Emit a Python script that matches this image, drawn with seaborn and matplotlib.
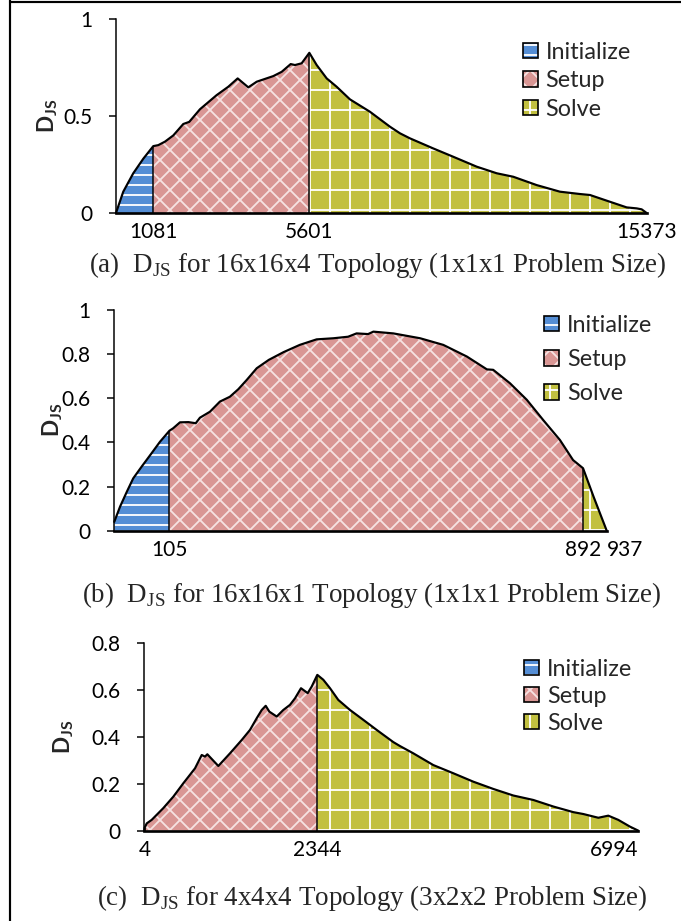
import numpy as np
import matplotlib
matplotlib.use('Agg')
import matplotlib.pyplot as plt
import matplotlib.patches as mpatches
from matplotlib.legend_handler import HandlerTuple
from matplotlib.lines import Line2D
import seaborn as sns

#
# data
#
phases = ['Initialize', 'Setup', 'Solve']

# (a) 16x16x4 topology
a_x = [0, 211, 501, 791, 1081, 1225, 1419, 1660, 1950, 2123, 2433, 2917, 3253,
       3525, 3833, 4076, 4557, 4800, 5061, 5185, 5379, 5601, 5814, 6104, 6393,
       6778, 7358, 7937, 8227, 8516, 9191, 9771, 10449, 11028, 11509, 12187,
       12861, 13441, 13730, 14310, 14794, 15083, 15228, 15373]
a_y = [0, 0.11, 0.205, 0.28, 0.345, 0.35, 0.368, 0.40, 0.459, 0.47, 0.535,
       0.608, 0.651, 0.694, 0.648, 0.677, 0.706, 0.728, 0.768, 0.763, 0.772,
       0.826, 0.763, 0.694, 0.651, 0.586, 0.522, 0.445, 0.411, 0.385, 0.333,
       0.29, 0.239, 0.205, 0.187, 0.144, 0.11, 0.098, 0.093, 0.058, 0.029,
       0.024, 0.019, 0]
a_bounds = [1081, 5601, 15373]

# (b) 16x16x1 topology
b_x = [0, 11, 24, 36, 52, 71, 87, 105, 112, 125, 141, 155, 163, 182, 201, 220,
       236, 252, 271, 294, 322, 353, 385, 417, 445, 461, 483, 493, 531, 582,
       626, 671, 709, 721, 753, 785, 816, 848, 873, 892, 912, 937]
b_y = [0.04, 0.109, 0.177, 0.237, 0.29, 0.351, 0.403, 0.453, 0.464, 0.491,
       0.492, 0.487, 0.512, 0.539, 0.585, 0.607, 0.641, 0.683, 0.736, 0.774,
       0.809, 0.842, 0.867, 0.872, 0.879, 0.894, 0.891, 0.902, 0.894, 0.872,
       0.842, 0.789, 0.731, 0.729, 0.668, 0.593, 0.502, 0.411, 0.32, 0.283,
       0.154, 0]
b_bounds = [105, 892, 937]

# (c) 4x4x4 topology
c_x = [0, 4, 33, 100, 257, 393, 528, 687, 778, 822, 854, 1003, 1161, 1320,
       1432, 1523, 1591, 1645, 1694, 1794, 1883, 1974, 2042, 2123, 2214, 2268,
       2344, 2431, 2528, 2648, 2818, 3010, 3204, 3445, 3542, 3735, 4024, 4314,
       4604, 4894, 5183, 5473, 5763, 6052, 6197, 6415, 6559, 6704, 6874, 6994]
c_y = [0, 0.012, 0.031, 0.046, 0.096, 0.145, 0.202, 0.266, 0.323, 0.316,
       0.326, 0.276, 0.330, 0.387, 0.430, 0.480, 0.515, 0.533, 0.508, 0.487,
       0.515, 0.537, 0.565, 0.608, 0.587, 0.615, 0.665, 0.644, 0.608, 0.558,
       0.515, 0.473, 0.43, 0.378, 0.361, 0.330, 0.280, 0.245, 0.209, 0.178,
       0.150, 0.131, 0.103, 0.079, 0.071, 0.055, 0.064, 0.046, 0.017, 0]
c_bounds = [4, 2344, 6994]
# the category axis of (c) is not evenly spaced: relative widths of its parts
c_knots = [0, 2344, 6994]
c_spacing = [0, 173, 494]

captions = [
    r'(a)  D$_{\mathdefault{JS}}$ for 16x16x4 Topology (1x1x1 Problem Size)',
    r'(b)  D$_{\mathdefault{JS}}$ for 16x16x1 Topology (1x1x1 Problem Size)',
    r'(c)  D$_{\mathdefault{JS}}$ for 4x4x4 Topology (3x2x2 Problem Size)',
]

#
# style
#
sns.set_style('white')
plt.rcParams['font.family'] = ['Lato', 'DejaVu Sans']
plt.rcParams['hatch.linewidth'] = 1.1

fills = ['#558ED5', '#D99694', '#C2C040']
hatch_colors = ['#FFFFFF', '#F6E2E2', '#FFFFFF']
hatches = ['--', 'xx', '+']

DPI = 120
fig = plt.figure(figsize=(681 / DPI, 921 / DPI), dpi=DPI)


def draw_panel(rect, xs, ys, bounds, ymax, ystep, label_x, legend_at,
               spacing, last_ha='center'):
    ax = fig.add_axes(rect)
    xs = np.asarray(xs, dtype=float)
    ys = np.asarray(ys, dtype=float)

    starts = [xs[0]] + bounds[:-1]
    for name, lo, hi, fc, hc, h in zip(phases, starts, bounds, fills,
                                       hatch_colors, hatches):
        m = (xs >= lo) & (xs <= hi)
        ax.fill_between(xs[m], ys[m], facecolor=fc, edgecolor=hc, hatch=h,
                        linewidth=0, zorder=1)
    inner = bounds[:-1]
    ax.vlines(inner, 0, np.interp(inner, xs, ys), color='black', lw=0.9,
              zorder=2)
    sns.lineplot(x=xs, y=ys, ax=ax, color='black', lw=1.3, clip_on=False,
                 zorder=3)

    ax.set_xlim(xs[0], bounds[-1])
    ax.set_ylim(0, ymax)
    yticks = np.round(np.arange(0, ymax + 1e-9, ystep), 2)
    ax.set_yticks(yticks)
    ax.set_yticklabels([f'{v:g}' for v in yticks])
    ax.set_xticks(bounds)
    ax.set_xticklabels([str(v) for v in bounds])
    ax.get_xticklabels()[-1].set_horizontalalignment(last_ha)
    ax.tick_params(axis='y', length=4.2, width=0.9, pad=10, labelsize=12.5,
                   direction='out', left=True, colors='black')
    ax.tick_params(axis='x', length=0, pad=5.5, labelsize=12.5,
                   colors='black')
    for s in ['top', 'right']:
        ax.spines[s].set_visible(False)
    ax.spines['left'].set_linewidth(0.9)
    ax.spines['left'].set_color('black')
    ax.spines['bottom'].set_linewidth(1.6)
    ax.spines['bottom'].set_color('black')
    ax.set_xlabel('')
    ax.set_ylabel(r'D$_{\mathdefault{JS}}$', fontweight='bold', fontsize=13.5)
    ax.yaxis.set_label_coords(label_x, 0.5)

    handles = [(mpatches.Patch(facecolor=fc, edgecolor=hc, hatch=h, lw=0),
                mpatches.Patch(facecolor='none', edgecolor='black', lw=1.0))
               for fc, hc, h in zip(fills, hatch_colors, hatches)]
    ax.legend(handles, phases, handler_map={tuple: HandlerTuple(ndivide=1, pad=0)},
              loc='upper left', bbox_to_anchor=legend_at, frameon=False,
              borderpad=0, borderaxespad=0, handlelength=0.65,
              handleheight=0.65, handletextpad=0.32, labelspacing=spacing,
              fontsize=14)
    return ax


draw_panel([0.1703, 0.7687, 0.7793, 0.2106], a_x, a_y, a_bounds, 1.0, 0.5,
           -0.105, (0.767, 0.883), 0.32)
draw_panel([0.1678, 0.4238, 0.7231, 0.2396], b_x, b_y, b_bounds, 1.0, 0.2,
           -0.100, (0.873, 0.978), 0.56, last_ha='left')
ax_c = draw_panel([0.2119, 0.0981, 0.7254, 0.2035], c_x, c_y, c_bounds, 0.8,
                  0.2, -0.138, (0.769, 0.918), 0.26, last_ha='right')
ax_c.set_xscale('function', functions=(
    lambda v: np.interp(v, c_knots, c_spacing),
    lambda v: np.interp(v, c_spacing, c_knots)))
ax_c.set_xlim(c_knots[0], c_knots[-1])
ax_c.set_xticks(c_bounds)
ax_c.set_xticklabels([str(v) for v in c_bounds])
ax_c.get_xticklabels()[-1].set_horizontalalignment('right')

for cap, (cx, cy) in zip(captions, [(378, 265), (372, 595), (372, 898)]):
    fig.text(cx / 681, 1 - cy / 921, cap, ha='center', va='center',
             fontsize=16.2, family=['Liberation Serif', 'DejaVu Serif'])

# page frame on the left and top
fig.add_artist(Line2D([10 / 681, 10 / 681], [0, 1], transform=fig.transFigure,
                      color='black', lw=1.3))
fig.add_artist(Line2D([10 / 681, 1], [1 - 1.5 / 921] * 2,
                      transform=fig.transFigure, color='black', lw=1.3))

fig.savefig('out.png', dpi=DPI)
